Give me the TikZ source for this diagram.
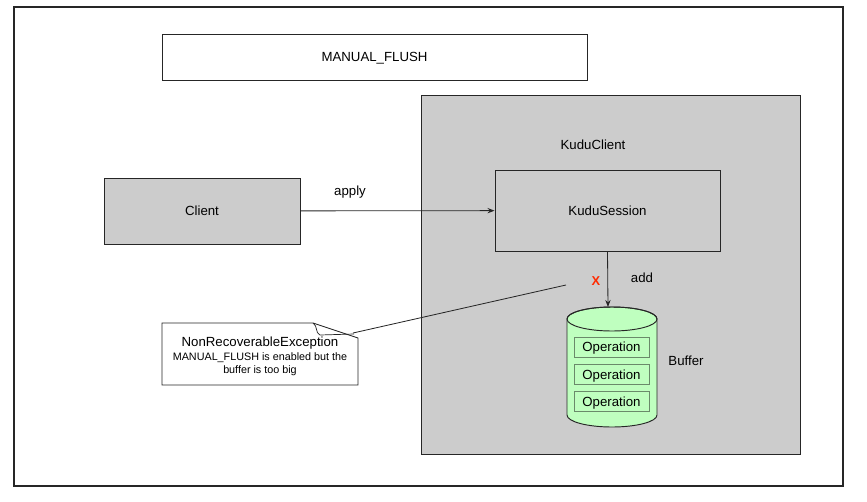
\documentclass[tikz,border=0pt]{standalone}
\usepackage{fontspec}
\setmainfont{Liberation Sans}
\usetikzlibrary{arrows.meta}
\definecolor{boxgray}{HTML}{CCCCCC}
\definecolor{opgreen}{HTML}{BFFFBF}
\definecolor{opline}{HTML}{6A8A6A}
\definecolor{xred}{HTML}{FF2A00}
\definecolor{linegray}{HTML}{262626}

\begin{document}
\begin{tikzpicture}[x=0.03cm,y=-0.03cm,
  every node/.style={font=\fontsize{11.3}{13.5}\selectfont,text height=8.2pt,text depth=0pt},
  box/.style={draw=linegray,line width=0.8pt,inner sep=0pt},
  opbox/.style={draw=opline,fill=opgreen,line width=0.6pt,minimum width=75*0.03cm,minimum height=20*0.03cm,inner sep=0pt},
  arr/.style={-{Stealth[length=6pt,width=4.5pt]},line width=0.7pt,draw=linegray}]
  \useasboundingbox (0,0) rectangle (867,501);
  \draw[line width=0.9pt,linegray] (14,7) rectangle (843,486);
  \node[box,minimum width=425*0.03cm,minimum height=46*0.03cm] (mode) at (374.5,57) {MANUAL\_FLUSH};
  \draw[line width=0.8pt,linegray,fill=boxgray] (421,95) rectangle (800,454);
  \node (kuduclient) at (593,145) {KuduClient};
  \node[box,fill=boxgray,minimum width=196*0.03cm,minimum height=66*0.03cm] (client) at (202,211) {Client};
  \node[box,minimum width=225*0.03cm,minimum height=81*0.03cm] (session) at (607.5,210.5) {KuduSession};
  \node (apply) at (350,191) {apply};
  \draw[arr] (client) -- (session);
  \draw[line width=0.8pt,linegray,fill=opgreen] (567,319) -- (567,415)
    arc[start angle=180,end angle=0,x radius=45,y radius=12] -- (657,319)
    arc[start angle=0,end angle=-180,x radius=45,y radius=12] -- cycle;
  \draw[line width=0.8pt,linegray] (612,319) ellipse [x radius=45,y radius=12];
  \coordinate (buftop) at (608,307);
  \foreach \i/\y in {1/347,2/374.5,3/401.5}
    \node[opbox] (op\i) at (611.5,\y) {Operation};
  \node (buffer) at (686,361) {Buffer};
  \draw[arr] (session.south) -- (buftop);
  \node (add) at (642,278) {add};
  \node[text=xred,font=\fontsize{11}{13}\selectfont\bfseries] (xmark) at (596,281) {X};
  \draw[line width=0.8pt,linegray,fill=white] (162,323) -- (313,323) -- (358,338) -- (358,385) -- (162,385) -- cycle;
  \draw[line width=0.6pt,linegray] (313,323) .. controls (318,326) and (315,333) .. (320,335) -- (354,334);
  \node[align=center,inner sep=0pt,text height={},text depth={}] (note) at (260,356) {NonRecoverableException\\[-1pt]
    {\fontsize{9.2}{11}\selectfont MANUAL\_FLUSH is enabled but the}\\[-3pt]
    {\fontsize{9.2}{11}\selectfont buffer is too big}};
  \coordinate (notetip) at (353,333);
  \coordinate (errpoint) at (566,285);
  \draw[line width=0.7pt,linegray] (notetip) -- (errpoint);
\end{tikzpicture}
\end{document}
